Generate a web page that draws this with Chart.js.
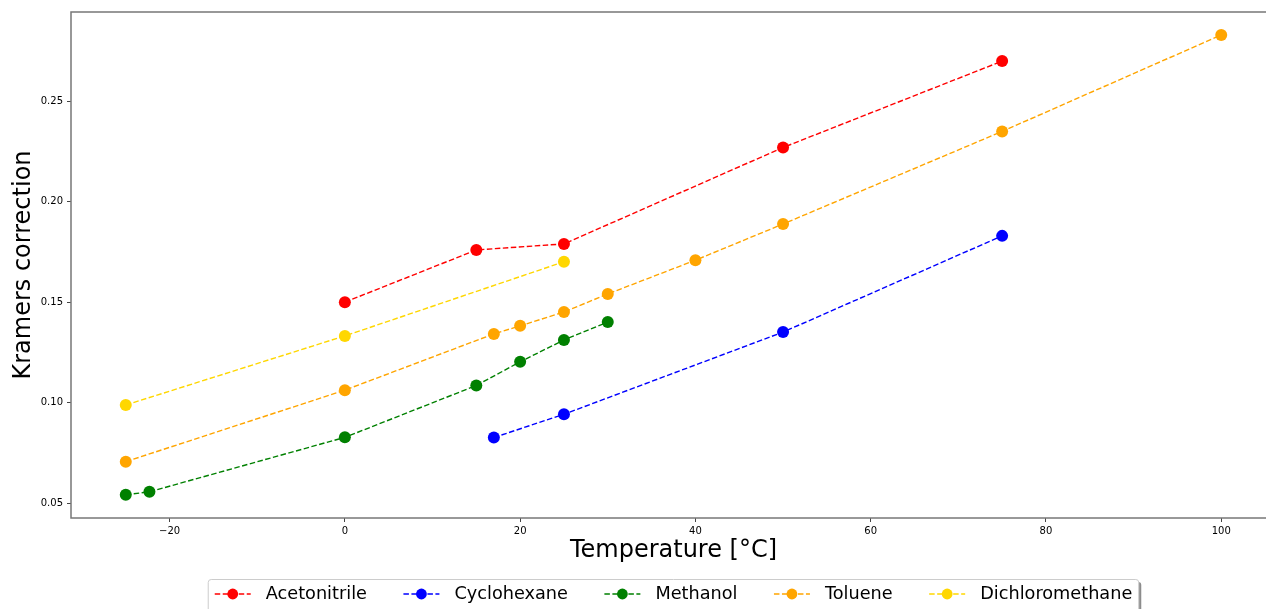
<!DOCTYPE html>
<html>
<head>
<meta charset="utf-8">
<script src="https://cdn.jsdelivr.net/npm/chart.js@4/dist/chart.umd.min.js"></script>
<style>
  html, body { margin: 0; padding: 0; background: #fff; overflow: hidden; }
  #wrap { width: 1276px; height: 609px; }
</style>
</head>
<body>
<div id="wrap"><canvas id="grafica" width="1276" height="609"></canvas></div>
<script>
// series names / colours
const solventes = ['Acetonitrile', 'Cyclohexane', 'Methanol', 'Toluene', 'Dichloromethane'];
const colores = ['#ff0000', '#0000ff', '#008000', '#ffa500', '#ffd700'];

// temperature [°C] and Kramers correction for each solvent
const acetonitrileT = [0, 15, 25, 50, 75];
const acetonitrileK = [0.150, 0.176, 0.179, 0.227, 0.270];
const cyclohexaneT = [17, 25, 50, 75];
const cyclohexaneK = [0.0826, 0.0942, 0.1351, 0.183];
const methanolT = [-25, -22.3, 0, 15, 20, 25, 30];
const methanolK = [0.0541, 0.0556, 0.0827, 0.1085, 0.1203, 0.1312, 0.1401];
const tolueneT = [-25, 0, 17, 20, 25, 30, 40, 50, 75, 100];
const tolueneK = [0.0706, 0.1062, 0.1342, 0.1382, 0.1451, 0.1541, 0.1709, 0.1889, 0.235, 0.283];
const dichloromethaneT = [-25, 0, 25];
const dichloromethaneK = [0.0988, 0.1332, 0.1701];

// tick labels
const xTicks = [-20, 0, 20, 40, 60, 80, 100];
const yTicks = [0.05, 0.10, 0.15, 0.20, 0.25];

const seriesT = [acetonitrileT, cyclohexaneT, methanolT, tolueneT, dichloromethaneT];
const seriesK = [acetonitrileK, cyclohexaneK, methanolK, tolueneK, dichloromethaneK];

const FUENTE = "'DejaVu Sans', sans-serif";
const COLOR_MARCO = '#777777';

function puntos(ts, ks) {
    return ts.map((t, i) => ({ x: t, y: ks[i] }));
}

const datasets = solventes.map((nombre, i) => ({
    label: nombre,
    data: puntos(seriesT[i], seriesK[i]),
    showLine: true,
    borderColor: colores[i],
    backgroundColor: colores[i],
    borderWidth: 1.4,
    borderDash: [5.5, 2.5],
    pointRadius: 6,
    pointHoverRadius: 6,
    pointBorderWidth: 0,
    pointBackgroundColor: colores[i],
    order: solventes.length - i
}));

// frame round the plot area (top + left + bottom, right edge falls off the page)
const marcoPlugin = {
    id: 'marco',
    afterDraw(chart) {
        const { ctx, chartArea } = chart;
        ctx.save();
        ctx.strokeStyle = COLOR_MARCO;
        ctx.lineWidth = 1.5;
        ctx.strokeRect(chartArea.left, chartArea.top, chartArea.right - chartArea.left, chartArea.bottom - chartArea.top);
        ctx.restore();
    }
};

// matplotlib-like legend under the axis title
const leyendaPlugin = {
    id: 'leyenda',
    afterDraw(chart) {
        const { ctx, chartArea } = chart;
        const tamHandle = 36, sepTexto = 15, sepColumna = 36.5, pad = 6.5;
        ctx.save();
        ctx.font = "17.7px " + FUENTE;
        const anchos = chart.data.datasets.map(d => ctx.measureText(d.label).width);
        let total = pad * 2 + sepColumna * (anchos.length - 1);
        anchos.forEach(w => { total += tamHandle + sepTexto + w; });
        const cx = (chartArea.left + chartArea.right) / 2;
        const x0 = cx - total / 2;
        const y0 = 579.5;
        const alto = 36;
        const yc = 594;

        // shadow
        ctx.fillStyle = 'rgba(0,0,0,0.45)';
        ctx.beginPath();
        ctx.roundRect(x0 + 2.5, y0 + 2.5, total, alto, 3);
        ctx.fill();
        // box
        ctx.fillStyle = '#ffffff';
        ctx.strokeStyle = '#cccccc';
        ctx.lineWidth = 1;
        ctx.beginPath();
        ctx.roundRect(x0, y0, total, alto, 3);
        ctx.fill();
        ctx.stroke();

        let x = x0 + pad;
        chart.data.datasets.forEach((d, i) => {
            ctx.strokeStyle = d.borderColor;
            ctx.lineWidth = 1.4;
            ctx.setLineDash([5.5, 2.5]);
            ctx.beginPath();
            ctx.moveTo(x, yc);
            ctx.lineTo(x + tamHandle, yc);
            ctx.stroke();
            ctx.setLineDash([]);
            ctx.fillStyle = d.borderColor;
            ctx.beginPath();
            ctx.arc(x + tamHandle / 2, yc, 5.4, 0, Math.PI * 2);
            ctx.fill();
            ctx.fillStyle = '#000000';
            ctx.textAlign = 'left';
            ctx.textBaseline = 'middle';
            ctx.fillText(d.label, x + tamHandle + sepTexto, yc);
            x += tamHandle + sepTexto + anchos[i] + sepColumna;
        });
        ctx.restore();
    }
};

function formatoX(v) {
    return v < 0 ? '\u2212' + Math.abs(v) : String(v);
}

const ctx = document.getElementById('grafica').getContext('2d');
const grafica = new Chart(ctx, {
    type: 'scatter',
    data: { datasets },
    plugins: [marcoPlugin, leyendaPlugin],
    options: {
        responsive: false,
        maintainAspectRatio: false,
        animation: false,
        devicePixelRatio: 1,
        layout: { autoPadding: false, padding: { top: 12, right: 0, bottom: 0, left: 0 } },
        plugins: {
            legend: { display: false },
            tooltip: { enabled: false }
        },
        scales: {
            x: {
                type: 'linear',
                min: -31.25,
                max: 106.25,
                afterBuildTicks: (axis) => { axis.ticks = xTicks.map(v => ({ value: v })); },
                afterFit: (axis) => {
                    axis.height = 91;
                    axis.paddingLeft = 0;
                    axis.paddingRight = 0;
                },
                border: { display: false },
                grid: {
                    drawOnChartArea: false,
                    tickLength: 4,
                    tickColor: '#444444',
                    tickWidth: 1
                },
                ticks: {
                    maxRotation: 0,
                    padding: 3,
                    color: '#000000',
                    font: { family: FUENTE, size: 10 },
                    callback: (v) => formatoX(v)
                },
                title: {
                    display: true,
                    text: 'Temperature [°C]',
                    color: '#000000',
                    font: { family: FUENTE, size: 24 },
                    padding: { top: 0, bottom: 43.5 }
                }
            },
            y: {
                type: 'linear',
                min: 0.04255,
                max: 0.29445,
                afterBuildTicks: (axis) => { axis.ticks = yTicks.map(v => ({ value: v })); },
                afterFit: (axis) => {
                    axis.width = 71;
                    axis.paddingTop = 0;
                    axis.paddingBottom = 0;
                },
                border: { display: false },
                grid: {
                    drawOnChartArea: false,
                    tickLength: 4,
                    tickColor: '#444444',
                    tickWidth: 1
                },
                ticks: {
                    padding: 4,
                    color: '#000000',
                    font: { family: FUENTE, size: 10 },
                    callback: (v) => v.toFixed(2)
                },
                title: {
                    display: true,
                    text: 'Kramers correction',
                    color: '#000000',
                    font: { family: FUENTE, size: 24 },
                    padding: { top: 9.3, bottom: 0 }
                }
            }
        }
    }
});
</script>
</body>
</html>
